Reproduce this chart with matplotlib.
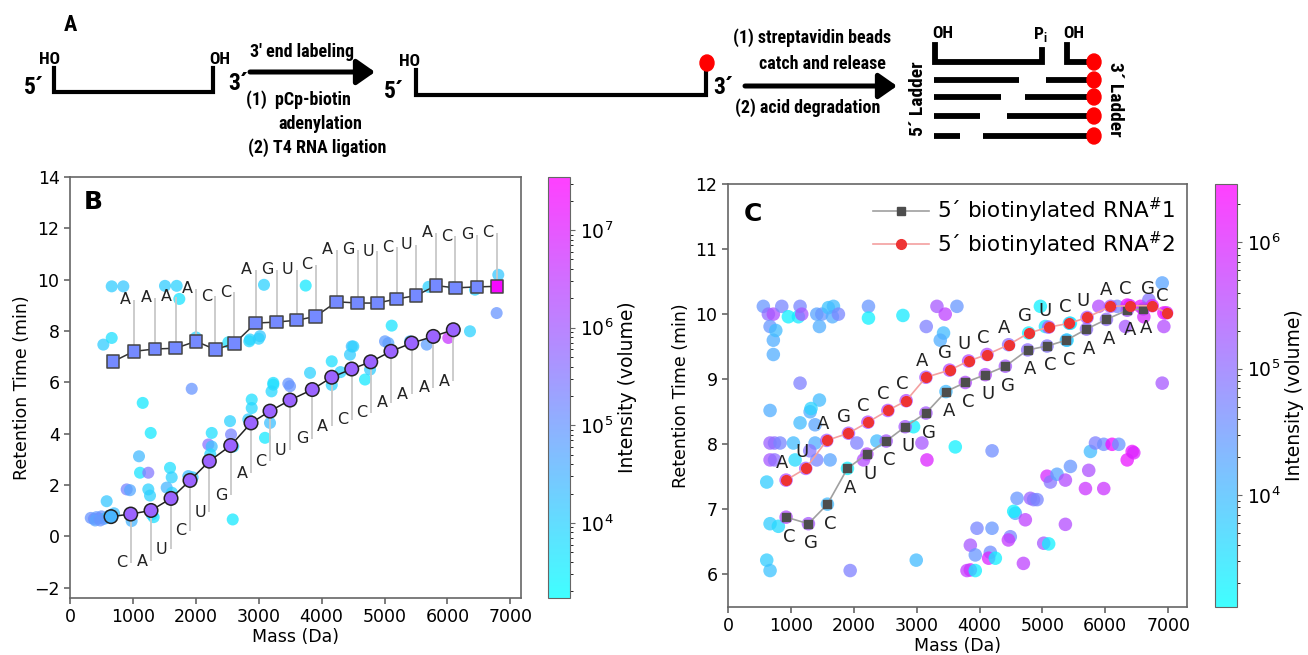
import matplotlib
matplotlib.use("Agg")
import matplotlib.pyplot as plt
from matplotlib import font_manager
from matplotlib.colors import LogNorm
from matplotlib.patches import Ellipse

W, H = 1308, 655

# ---------------- panel B data ----------------
b_sq_mass = [684, 1017, 1351, 1680, 2003, 2310, 2612, 2952, 3286, 3604,
             3906, 4239, 4573, 4886, 5193, 5501, 5819, 6126, 6466, 6784]
b_sq_rt = [6.81, 7.21, 7.30, 7.33, 7.60, 7.28, 7.51, 8.31, 8.35, 8.42,
           8.57, 9.14, 9.09, 9.09, 9.25, 9.38, 9.77, 9.68, 9.72, 9.74]
b_sq_int = [1.6e5, 1.6e5, 1.6e5, 1.6e5, 1.6e5, 1.6e5, 1.6e5, 1.6e5, 1.6e5, 1.6e5,
            1.6e5, 1.6e5, 1.6e5, 1.6e5, 1.6e5, 1.6e5, 1.6e5, 1.6e5, 1.6e5, 2.5e7]
b_top_letters = list("AAAACCAGUCAGUCUACGC")
b_top_rt = [9.22, 9.29, 9.33, 9.64, 9.35, 9.51, 10.39, 10.39, 10.39, 10.58,
            11.17, 11.17, 11.10, 11.27, 11.36, 11.82, 11.69, 11.75, 11.82]

b_ci_mass = [652, 965, 1288, 1606, 1908, 2215, 2555, 2878, 3180, 3498,
             3852, 4161, 4479, 4781, 5103, 5432, 5776, 6094]
b_ci_rt = [0.77, 0.87, 1.01, 1.48, 2.18, 2.93, 3.54, 4.42, 4.88, 5.31,
           5.72, 6.20, 6.52, 6.80, 7.21, 7.53, 7.79, 8.05]
b_ci_int = [3e4, 7e5, 7e5, 7e5, 7e5, 7e5, 7e5, 7e5, 7e5, 7e5,
            7e5, 7e5, 7e5, 7e5, 7e5, 7e5, 7e5, 7e5]
b_low_letters = list("CAUCUGACUGACCAAAA")
b_low_rt = [-1.02, -0.96, -0.50, 0.21, 0.95, 1.60, 2.45, 2.93, 3.36, 3.80,
            4.29, 4.55, 4.81, 5.20, 5.53, 5.79, 6.04]

b_bg_mass = [663, 848, 1510, 1696, 1738, 3084, 3747, 530, 663, 2003, 2517, 2862,
             3021, 1935, 6809, 6783, 6439, 5114, 5061, 4479, 4451, 4690, 4770,
             5671, 6014, 6359, 5405, 5008, 3816, 4161, 4504, 3232, 3471,
             330, 380, 420, 460, 500, 540, 580, 620, 400, 480, 583, 901, 954,
             1156, 1283, 1097, 1113, 1245, 1245, 1272, 1590, 1617, 1537, 1881,
             2253, 2199, 2253, 2544, 2560, 2596, 2587, 2889, 2889, 2835, 3100,
             3180, 3232, 3204, 3498, 4161, 700, 1300, 1330, 980, 2850, 3000,
             5700, 6100, 4300, 1950, 2230, 1620]
b_bg_rt = [9.74, 9.74, 9.76, 9.76, 9.25, 9.80, 9.77, 7.47, 7.73, 7.75, 7.56, 7.67,
           7.80, 5.75, 10.19, 8.70, 9.61, 8.21, 7.53, 7.40, 7.08, 6.11, 6.50,
           7.47, 7.73, 7.99, 7.60, 7.60, 6.37, 6.82, 7.40, 5.98, 5.95,
           0.72, 0.68, 0.75, 0.70, 0.78, 0.68, 0.72, 0.80, 0.62, 0.62, 1.37, 1.83, 1.80,
           5.20, 4.03, 3.12, 2.48, 2.48, 1.83, 1.59, 2.67, 2.30, 1.90, 2.35,
           4.03, 3.58, 3.50, 4.49, 3.97, 3.50, 0.66, 5.33, 5.00, 4.56, 3.84,
           4.42, 5.91, 5.65, 5.85, 5.90, 0.90, 0.85, 0.75, 0.60, 7.60, 7.70,
           9.72, 9.70, 6.40, 2.30, 3.20, 1.70]
b_bg_int = [1.2e4, 1.5e4, 1.2e4, 1e4, 5e3, 1e4, 4e3, 1.2e4, 6e3, 1e4, 6e3, 1e4,
            1.5e4, 1e5, 1.5e4, 1e5, 1e4, 5e3, 5e4, 2e4, 1.2e4, 4e3, 1.2e4,
            7e4, 4e6, 1e4, 3e4, 8e4, 1e4, 6e3, 1e4, 6e3, 1e5,
            1e5, 1.5e5, 8e4, 2e5, 1e5, 5e4, 3e4, 2e4, 6e4, 1e5, 1.5e4, 2e5, 5e4,
            4e3, 4e3, 2.5e4, 5e3, 3e5, 1e4, 1e4, 6e3, 1e4, 3e4, 2e4,
            6e3, 4e5, 2e4, 1e4, 2e5, 1e4, 4e3, 6e3, 8e3, 1.2e4, 4e3,
            2e4, 6e3, 8e3, 1e5, 1e4, 2e4, 1e4, 6e3, 3e4, 8e3, 1e4,
            1e4, 1e4, 1e4, 1.5e4, 8e3, 1e4]

# ---------------- panel C data ----------------
c1_mass = [924, 1279, 1581, 1900, 2209, 2516, 2818, 3148, 3466, 3774,
           4092, 4411, 4766, 5075, 5382, 5701, 6019, 6349, 6604]
c1_rt = [6.88, 6.78, 7.08, 7.63, 7.85, 8.05, 8.27, 8.48, 8.81, 8.95,
         9.07, 9.20, 9.45, 9.51, 9.60, 9.77, 9.92, 10.06, 10.08]
c1_int = [3e5, 2e5, 1e4, 2e3, 3e5, 2e5, 2e5, 2e5, 1e4, 3e5,
          3e5, 2e5, 1e5, 8e4, 1e4, 1e5, 1e5, 2e5, 5e5]
c1_letters = list("CGCAUCUGACUGACCAAAA")

c2_mass = [924, 1237, 1571, 1916, 2225, 2543, 2834, 3148, 3524, 3827,
           4120, 4463, 4782, 5100, 5430, 5711, 6083, 6390, 6747, 6975]
c2_rt = [7.45, 7.63, 8.06, 8.17, 8.34, 8.52, 8.67, 9.03, 9.14, 9.28,
         9.38, 9.53, 9.71, 9.80, 9.86, 9.95, 10.12, 10.13, 10.13, 10.02]
c2_int = [3e5, 2e5, 2e5, 2e5, 3e5, 3e5, 3e5, 2e5, 3e5, 3e5,
          3e5, 1e5, 2e3, 2e5, 5e3, 2e5, 2e5, 1e6, 1e6, 1e6]
c2_letters = list("AUAGCCCAGUCAGUCUACGC")

c_bg_mass = [562, 642, 721, 855, 960, 1119, 1146, 1173, 1412, 1492, 1454, 1597,
             1677, 1661, 1756, 2234, 2234, 2782, 3153, 3323, 3455, 3641, 3428,
             3376, 669, 721, 721, 760, 1146, 1454, 1306, 669, 1146, 1320, 1385,
             669, 740, 828, 1040, 669, 740, 1067, 1385, 1300, 1412, 1624, 616,
             669, 801, 616, 669, 1943, 2049, 2368, 2155, 3084, 3164, 2951, 3615,
             2994, 4200,
             3854, 3854, 3960, 4199, 3933, 4172, 4145, 4252, 3801, 3933, 4490,
             4459, 4698, 4570, 4544, 4597, 4729, 4809, 4860, 4915, 5021, 5100,
             5074, 5127, 5233, 5366, 5446, 5366, 5685, 5737, 5976, 5764, 5844,
             5976, 6109, 6215, 6349, 6428, 6454,
             4968, 5446, 5393, 5048, 5897, 6189, 6349, 6561, 6693, 6614, 6906,
             6932, 6932, 6906, 6322]
c_bg_rt = [10.12, 10.00, 10.00, 10.12, 9.96, 9.96, 10.12, 10.00, 10.00, 10.00, 9.81, 10.10,
           10.12, 9.96, 10.00, 10.12, 9.94, 9.98, 9.81, 10.12, 10.00, 10.12, 9.71,
           9.60, 9.81, 9.60, 9.38, 9.75, 8.94, 8.68, 8.50, 8.52, 8.33, 8.55, 8.30,
           8.02, 8.02, 8.02, 8.02, 7.76, 7.76, 7.76, 8.02, 7.90, 7.76, 7.76, 7.42,
           6.78, 6.74, 6.22, 6.06, 6.06, 8.02, 8.05, 7.76, 8.02, 7.76, 8.27, 7.96,
           6.22, 7.90,
           6.45, 6.07, 6.71, 6.71, 6.30, 6.34, 6.25, 6.25, 6.06, 6.06, 6.58,
           6.53, 6.17, 6.94, 6.97, 7.17, 6.84, 7.17, 7.15, 7.15, 6.48, 6.47,
           7.51, 7.42, 7.54, 7.45, 7.66, 6.77, 7.32, 7.60, 7.32, 7.89, 8.02,
           8.00, 8.00, 8.00, 7.76, 7.89, 7.87,
           10.12, 9.86, 9.60, 9.81, 10.12, 10.12, 10.14, 10.12, 10.22, 9.96, 10.48,
           10.02, 9.81, 8.94, 9.81]
c_bg_int = [3e4, 1e5, 2.5e5, 5e4, 2e3, 2.5e3, 5e4, 2e5, 2e4, 3e4, 1.5e4, 8e3,
            1e4, 1.5e4, 5e4, 3e4, 2e3, 2.5e3, 6e4, 2e5, 4e5, 3e4, 1e4,
            1.5e4, 3e4, 1.5e4, 1.5e4, 1e4, 6e4, 1e4, 1.5e4, 1.5e4, 1e4, 5e3, 2e4,
            1.5e5, 1e5, 5e4, 1e4, 2e5, 1e5, 4e3, 1.5e4, 8e4, 5e4, 2e4, 6e3,
            6e3, 4e3, 6e3, 8e3, 6e4, 6e4, 1e4, 3e5, 2e5, 1e6, 2e3, 2e3,
            1e4, 4e4,
            2e5, 1e6, 5e4, 3e4, 3e4, 4e4, 1e6, 2e3, 5e5, 2e3, 5e4,
            5e5, 4e5, 2e4, 2e3, 3e4, 4e5, 1.5e5, 8e4, 5e4, 2e5, 2e3,
            8e5, 8e4, 2e4, 3e5, 3e4, 3e5, 6e5, 2.5e5, 6e5, 1e4, 6e4,
            4e4, 2e6, 3e4, 1.5e6, 1.5e6, 1e6,
            2e3, 2e3, 3e3, 3e3, 3e5, 5e4, 1.5e6, 1.5e6, 8e4, 8e5, 2e4,
            1.5e6, 3e5, 2e5, 2e5]

# ---------------- fonts ----------------
plt.rcParams["font.family"] = "DejaVu Sans"
plt.rcParams["font.size"] = 12.5
installed = {f.name for f in font_manager.fontManager.ttflist}
scheme_font = "DejaVu Sans"
for cand in ["Liberation Sans Narrow", "Roboto Condensed", "Open Sans Condensed",
             "Open Sans", "Noto Sans"]:
    if cand in installed:
        scheme_font = cand
        break

fig = plt.figure(figsize=(W / 100, H / 100), dpi=100)


def style_axes(ax):
    for sp in ax.spines.values():
        sp.set_color("#666666")
        sp.set_linewidth(1.2)
    ax.tick_params(colors="#666666", labelcolor="black", labelsize=12.5, length=4, width=1.2)


# ---------------- panel A (scheme, pixel coordinates) ----------------
ax0 = fig.add_axes([0, 0, 1, 1])
ax0.set_xlim(0, W)
ax0.set_ylim(H, 0)
ax0.axis("off")
sk = dict(fontfamily=scheme_font, fontweight="bold", ha="center", va="center")
lw_strand = 3.0
lw_bar = 4.2
fs_step = 13
fs_end = 12.5
fs_prime = 17

ax0.text(70, 25, "A", fontsize=16, **sk)
# strand 1
ax0.plot([54, 54, 213, 213], [68, 92, 92, 68], color="k", lw=lw_strand, solid_joinstyle="miter")
ax0.text(50, 60, "HO", fontsize=fs_end, **sk)
ax0.text(220, 60, "OH", fontsize=fs_end, **sk)
ax0.text(34, 88, "5´", fontsize=fs_prime, **sk)
ax0.text(238, 83, "3´", fontsize=fs_prime, **sk)
# arrow 1
ax0.annotate("", xy=(375, 72), xytext=(250, 72),
             arrowprops=dict(arrowstyle="-|>,head_length=0.5,head_width=0.35", lw=3.6,
                             color="k", mutation_scale=22, shrinkA=0, shrinkB=0))
ax0.text(302, 52, "3' end labeling", fontsize=fs_step, **sk)
ax0.text(298, 100, "(1)  pCp-biotin", fontsize=fs_step, **sk)
ax0.text(320, 124, "adenylation", fontsize=fs_step, **sk)
ax0.text(317, 148, "(2) T4 RNA ligation", fontsize=fs_step, **sk)
# strand 2
ax0.plot([416, 416, 706, 706], [70, 95, 95, 66], color="k", lw=lw_strand, solid_joinstyle="miter")
ax0.add_patch(Ellipse((707, 63), 14, 16, color="#ff0000", zorder=3))
ax0.text(410, 62, "HO", fontsize=fs_end, **sk)
ax0.text(394, 91, "5´", fontsize=fs_prime, **sk)
ax0.text(723, 88, "3´", fontsize=fs_prime, **sk)
# arrow 2
ax0.annotate("", xy=(897, 86), xytext=(745, 86),
             arrowprops=dict(arrowstyle="-|>,head_length=0.5,head_width=0.35", lw=3.6,
                             color="k", mutation_scale=22, shrinkA=0, shrinkB=0))
ax0.text(812, 38, "(1) streptavidin beads", fontsize=fs_step, **sk)
ax0.text(822, 64, "catch and release", fontsize=fs_step, **sk)
ax0.text(808, 108, "(2) acid degradation", fontsize=fs_step, **sk)
# ladders
ax0.plot([935, 935, 1042, 1042], [45, 62, 62, 50], color="k", lw=lw_bar, solid_joinstyle="miter")
ax0.plot([1067, 1067, 1093], [45, 62, 62], color="k", lw=lw_bar, solid_joinstyle="miter")
ax0.text(943, 34, "OH", fontsize=fs_end, **sk)
ax0.text(1040, 34, r"P$_\mathregular{i}$", fontsize=fs_end, **sk)
ax0.text(1074, 34, "OH", fontsize=fs_end, **sk)
rows = [80, 97, 116, 136]
left_end = [1019, 1001, 980, 960]
right_start = [1046, 1025, 1007, 983]
for yy, le, rs in zip(rows, left_end, right_start):
    ax0.plot([934, le], [yy, yy], color="k", lw=lw_bar, solid_capstyle="butt")
    ax0.plot([rs, 1093], [yy, yy], color="k", lw=lw_bar, solid_capstyle="butt")
for yy in [62] + rows:
    ax0.add_patch(Ellipse((1094, yy), 14, 16, color="#ff0000", zorder=3))
ax0.text(918, 99, "5´ Ladder", fontsize=14, rotation=90, **sk)
ax0.text(1115, 99, "3´ Ladder", fontsize=14, rotation=-90, **sk)

# ---------------- panel B ----------------
axB = fig.add_axes([70 / W, 1 - 598 / H, 451 / W, 421 / H])
normB = LogNorm(1.7e3, 3.5e7)
scB = axB.scatter(b_bg_mass, b_bg_rt, c=b_bg_int, cmap="cool", norm=normB, s=75,
                  alpha=0.75, linewidths=0, zorder=1)
axB.vlines(b_sq_mass[1:], b_sq_rt[1:], b_top_rt, color="#c8c8c8", lw=1.3, zorder=2)
axB.vlines(b_ci_mass[1:], b_low_rt, b_ci_rt[1:], color="#c8c8c8", lw=1.3, zorder=2)
axB.plot(b_sq_mass, b_sq_rt, color="#333333", lw=1.1, zorder=3)
axB.plot(b_ci_mass, b_ci_rt, color="#222222", lw=1.1, zorder=3)
axB.scatter(b_sq_mass, b_sq_rt, c=b_sq_int, cmap="cool", norm=normB, marker="s", s=80,
            edgecolors="#444444", linewidths=1.1, zorder=4)
axB.scatter(b_ci_mass, b_ci_rt, c=b_ci_int, cmap="cool", norm=normB, marker="o", s=95,
            edgecolors="#222222", linewidths=1.1, zorder=4)
for m, r, t in zip(b_sq_mass[1:], b_top_rt, b_top_letters):
    axB.annotate(t, (m, r), xytext=(-2.5, 0), textcoords="offset points", ha="right",
                 va="center", fontsize=11.5, color="#222222", zorder=5)
for m, r, t in zip(b_ci_mass[1:], b_low_rt, b_low_letters):
    axB.annotate(t, (m, r), xytext=(-2.5, 0), textcoords="offset points", ha="right",
                 va="center", fontsize=11.5, color="#222222", zorder=5)
axB.set_xlim(0, 7170)
axB.set_ylim(-2.4, 14)
axB.set_xticks(range(0, 7001, 1000))
axB.set_yticks(range(-2, 15, 2))
axB.set_xlabel("Mass (Da)", fontsize=12.5, labelpad=1)
axB.set_ylabel("Retention Time (min)", fontsize=12.5, labelpad=2)
axB.text(0.03, 0.94, "B", transform=axB.transAxes, fontsize=18, fontweight="bold",
         ha="left", va="center")
style_axes(axB)

caxB = fig.add_axes([548 / W, 1 - 598 / H, 22 / W, 421 / H])
cbB = fig.colorbar(scB, cax=caxB)
cbB.set_label("Intensity (volume)", fontsize=13.5, labelpad=3)
cbB.outline.set_edgecolor("#666666")
caxB.tick_params(colors="#666666", labelcolor="black", labelsize=13.5)

# ---------------- panel C ----------------
axC = fig.add_axes([728 / W, 1 - 607 / H, 459 / W, 423 / H])
normC = LogNorm(1.3e3, 2.9e6)
scC = axC.scatter(c_bg_mass, c_bg_rt, c=c_bg_int, cmap="cool", norm=normC, s=95,
                  alpha=0.75, linewidths=0, zorder=1)
axC.scatter(c1_mass, c1_rt, c=c1_int, cmap="cool", norm=normC, s=95, alpha=0.75,
            linewidths=0, zorder=1)
axC.scatter(c2_mass, c2_rt, c=c2_int, cmap="cool", norm=normC, s=95, alpha=0.75,
            linewidths=0, zorder=1)
axC.plot(c1_mass, c1_rt, color="#a0a0a0", lw=1.2, marker="s", ms=6, mfc="#4d4d4d",
         mec="#4d4d4d", zorder=3, label=r"5´ biotinylated RNA$^{\#}$1")
axC.plot(c2_mass, c2_rt, color="#f4a0a0", lw=1.2, marker="o", ms=7, mfc="#ee3333",
         mec="#ee3333", zorder=3, label=r"5´ biotinylated RNA$^{\#}$2")
for m, r, t in zip(c1_mass, c1_rt, c1_letters):
    axC.annotate(t, (m, r), xytext=(2, -14), textcoords="offset points", ha="center",
                 va="center", fontsize=13, color="#222222", zorder=5)
for m, r, t in zip(c2_mass, c2_rt, c2_letters):
    axC.annotate(t, (m, r), xytext=(-3, 12), textcoords="offset points", ha="center",
                 va="center", fontsize=13, color="#222222", zorder=5)
axC.set_xlim(0, 7300)
axC.set_ylim(5.5, 12)
axC.set_xticks(range(0, 7001, 1000))
axC.set_yticks(range(6, 13))
axC.set_xlabel("Mass (Da)", fontsize=12.5, labelpad=1)
axC.set_ylabel("Retention Time (min)", fontsize=12.5, labelpad=4)
axC.text(0.035, 0.93, "C", transform=axC.transAxes, fontsize=18, fontweight="bold",
         ha="left", va="center")
axC.legend(loc="upper right", frameon=False, fontsize=15.5, handlelength=2.6,
           borderaxespad=0.15, labelspacing=0.2, handletextpad=0.4)
style_axes(axC)

caxC = fig.add_axes([1215 / W, 1 - 607 / H, 22 / W, 423 / H])
cbC = fig.colorbar(scC, cax=caxC)
cbC.set_label("Intensity (volume)", fontsize=13.5, labelpad=3)
cbC.outline.set_edgecolor("#666666")
caxC.tick_params(colors="#666666", labelcolor="black", labelsize=13.5)

fig.savefig("out.png", dpi=100)
